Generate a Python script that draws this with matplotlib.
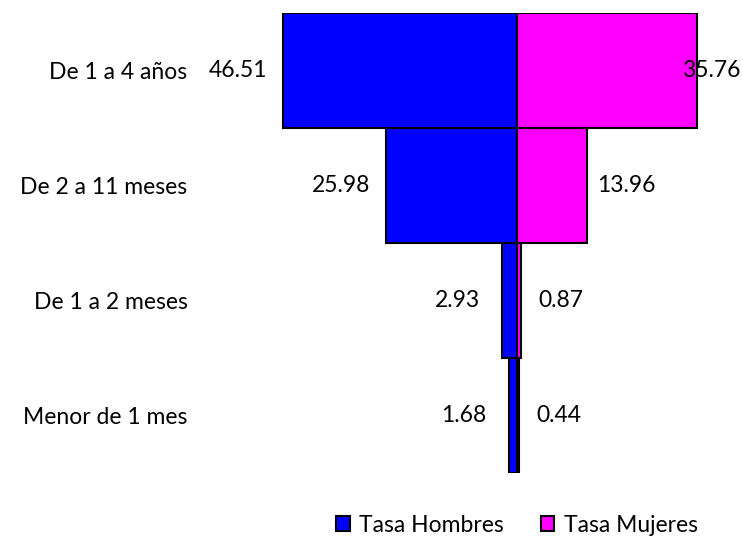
import matplotlib
matplotlib.use('Agg')
import matplotlib.pyplot as plt
import numpy as np

plt.rcParams['font.family'] = ['Lato', 'DejaVu Sans']

categorias = ['Menor de 1 mes', 'De 1 a 2 meses', 'De 2 a 11 meses', 'De 1 a 4 años']
tasa_hombres = [1.68, 2.93, 25.98, 46.51]
tasa_mujeres = [0.44, 0.87, 13.96, 35.76]

fig = plt.figure(figsize=(7.43, 5.40), dpi=100)
ax = fig.add_axes([200 / 743, 67 / 540, 543 / 743, 460 / 540])

y = np.arange(len(categorias))
ax.barh(y, [-v for v in tasa_hombres], height=1.0, color='#0000FF',
        edgecolor='black', linewidth=1.5, label='Tasa Hombres')
ax.barh(y, tasa_mujeres, height=1.0, color='#FF00FF',
        edgecolor='black', linewidth=1.5, label='Tasa Mujeres')

xmin, xmax = -63.0, 44.9
ax.set_xlim(xmin, xmax)
ax.set_ylim(-0.5, len(categorias) - 0.5)

# etiquetas de datos (Excel las empuja hacia dentro si no caben)
fs = 16.5
for i, (h, m) in enumerate(zip(tasa_hombres, tasa_mujeres)):
    ax.text(-(h + 9.0), i, f'{h:.2f}', ha='center', va='center', fontsize=fs)
    xm = min(m + 7.8, xmax - 6.3)
    ax.text(xm, i, f'{m:.2f}', ha='center', va='center', fontsize=fs)

ax.set_yticks(y)
ax.set_yticklabels(categorias, fontsize=fs)
ax.tick_params(axis='y', length=0, pad=9)
ax.set_xticks([])
for s in ax.spines.values():
    s.set_visible(False)

ax.legend(loc='center', bbox_to_anchor=(517 / 743, 15 / 540),
          bbox_transform=fig.transFigure, ncol=2, frameon=False, fontsize=fs,
          handlelength=0.6, handleheight=0.6, handletextpad=0.4,
          columnspacing=1.6, borderpad=0)

fig.savefig('out.png', dpi=100)
